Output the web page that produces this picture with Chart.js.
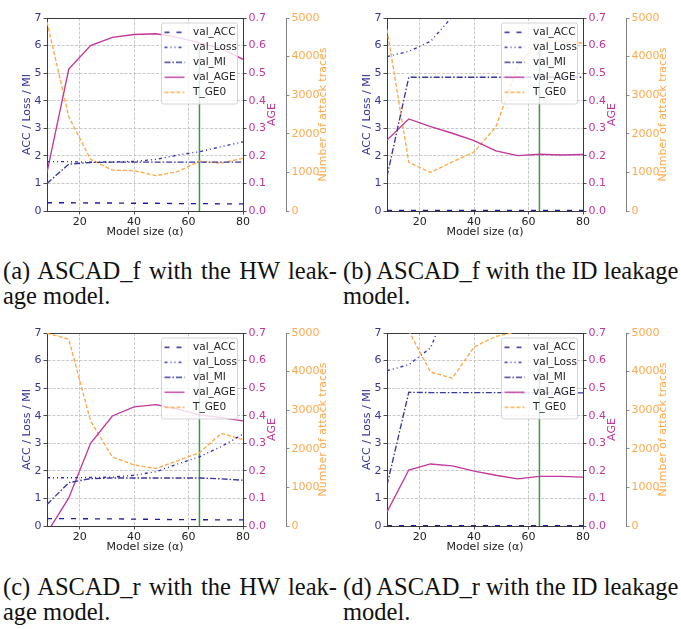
<!DOCTYPE html>
<html>
<head>
<meta charset="utf-8">
<script src="https://cdn.jsdelivr.net/npm/chart.js@4.4.0/dist/chart.umd.min.js"></script>
<style>
  body { margin: 0; background: #fff; width: 681px; height: 629px; position: relative; overflow: hidden; }
  .panel { position: absolute; width: 340px; height: 250px; }
  .cap { position: absolute; font-family: 'Liberation Serif', 'Times New Roman', serif; font-size: 24.5px; line-height: 25px; color: #111; white-space: nowrap; }
  .cap .j { display: block; width: 334px; text-align: justify; text-align-last: justify; }
</style>
</head>
<body>
<div class="panel" style="left:0;top:0"><canvas id="chartA" width="340" height="250"></canvas></div>
<div class="panel" style="left:340px;top:0"><canvas id="chartB" width="340" height="250"></canvas></div>
<div class="panel" style="left:0;top:315px"><canvas id="chartC" width="340" height="250"></canvas></div>
<div class="panel" style="left:340px;top:315px"><canvas id="chartD" width="340" height="250"></canvas></div>

<div class="cap" style="left:3px;top:258px"><span class="j">(a) ASCAD_f with the HW leak-</span>age model.</div>
<div class="cap" style="left:343px;top:258px">(b) ASCAD_f with the ID leakage<br>model.</div>
<div class="cap" style="left:3px;top:574px"><span class="j">(c) ASCAD_r with the HW leak-</span>age model.</div>
<div class="cap" style="left:343px;top:574px">(d) ASCAD_r with the ID leakage<br>model.</div>

<script>
const modelSizes = [8, 16, 24, 32, 40, 48, 56, 64, 72, 80];
const chosenSize = 64;
const chosenTop = 5.9;

// (a) ASCAD_f, HW
const accA  = [0.30, 0.30, 0.29, 0.29, 0.28, 0.28, 0.27, 0.27, 0.26, 0.26];
const lossA = [1.79, 1.79, 1.77, 1.78, 1.80, 1.87, 2.03, 2.15, 2.33, 2.51];
const miA   = [1.00, 1.70, 1.76, 1.77, 1.77, 1.77, 1.77, 1.77, 1.77, 1.77];
const ageA  = [0.14, 0.515, 0.60, 0.63, 0.64, 0.643, 0.63, 0.61, 0.59, 0.55];
const tgeA  = [4900, 2440, 1340, 1060, 1045, 915, 1020, 1290, 1240, 1365];

// (b) ASCAD_f, ID
const accB  = [0.02, 0.02, 0.02, 0.02, 0.02, 0.02, 0.02, 0.02, 0.02, 0.02];
const lossB = [5.60, 5.79, 6.15, 7.05, 8.0, 9.0, 10.0, 11.0, 12.0, 13.0];
const miB   = [1.25, 4.85, 4.85, 4.85, 4.85, 4.85, 4.85, 4.85, 4.85, 4.85];
const ageB  = [0.257, 0.334, 0.306, 0.282, 0.255, 0.218, 0.201, 0.206, 0.203, 0.205];
const tgeB  = [4700, 1260, 1000, 1270, 1530, 2180, 3740, 4450, 4390, 4350];

// (c) ASCAD_r, HW
const accC  = [0.27, 0.27, 0.26, 0.26, 0.25, 0.24, 0.23, 0.23, 0.22, 0.22];
const lossC = [1.75, 1.75, 1.76, 1.77, 1.84, 1.97, 2.25, 2.51, 2.88, 3.33];
const miC   = [0.78, 1.57, 1.72, 1.74, 1.74, 1.74, 1.74, 1.74, 1.71, 1.66];
const ageC  = [-0.025, 0.102, 0.30, 0.399, 0.432, 0.44, 0.424, 0.403, 0.393, 0.381];
const tgeC  = [4990, 4840, 2720, 1790, 1580, 1490, 1690, 1900, 2400, 2240];

// (d) ASCAD_r, ID
const accD  = [0.01, 0.01, 0.01, 0.01, 0.01, 0.01, 0.01, 0.01, 0.01, 0.01];
const lossD = [5.63, 5.85, 6.46, 8.4, 9.6, 10.8, 12.0, 13.0, 14.0, 15.0];
const miD   = [1.48, 4.85, 4.84, 4.84, 4.84, 4.84, 4.83, 4.83, 4.83, 4.83];
const ageD  = [0.051, 0.203, 0.225, 0.218, 0.199, 0.184, 0.171, 0.18, 0.18, 0.177];
const tgeD  = [6000, 5050, 3990, 3830, 4640, 4910, 5030, 5200, 5300, 5400];

const leftTicks = [0, 1, 2, 3, 4, 5, 6, 7];
const ageTicks = [0, 0.1, 0.2, 0.3, 0.4, 0.5, 0.6, 0.7];
const traceTicks = [0, 1000, 2000, 3000, 4000, 5000];

const FONT = 'DejaVu Sans';
const BLUE_TXT = '#35359a';
const C_ACC = '#1e1e98';
const C_LOSS = '#3030b4';
const C_MI = '#37379e';
const C_AGE = '#c2379c';
const C_TGE = '#ffa94a';
const C_GREEN = '#30a030';
const SPINE = '#3a3a3a';

Chart.defaults.font.family = FONT;
Chart.defaults.font.size = 11;

const boxLegend = {
    id: 'boxLegend',
    afterDatasetsDraw(chart) {
        const ctx = chart.ctx;
        const area = chart.chartArea;
        const items = chart.data.datasets.filter(d => d.label);
        const w = 76, rowH = 15, h = items.length * rowH + 6;
        const x0 = area.right - 5.5 - w, y0 = area.top + 5;
        ctx.save();
        ctx.fillStyle = 'rgba(255,255,255,0.8)';
        ctx.strokeStyle = '#cccccc';
        ctx.lineWidth = 0.8;
        ctx.beginPath();
        ctx.roundRect(x0, y0, w, h, 2);
        ctx.fill();
        ctx.stroke();
        items.forEach((d, i) => {
            const y = y0 + 9.3 + i * rowH;
            ctx.globalAlpha = 0.8;
            ctx.strokeStyle = d.borderColor;
            ctx.lineWidth = d.borderWidth + 0.3;
            ctx.setLineDash(d.borderDash || []);
            ctx.beginPath();
            ctx.moveTo(x0 + 3, y);
            ctx.lineTo(x0 + 23, y);
            ctx.stroke();
            ctx.setLineDash([]);
            ctx.globalAlpha = 1;
            ctx.fillStyle = '#262626';
            ctx.font = '10.5px "' + FONT + '"';
            ctx.textBaseline = 'middle';
            ctx.textAlign = 'left';
            ctx.fillText(d.label, x0 + 31.5, y);
        });
        ctx.restore();
    }
};

const sideTitleDefs = {
    yAge: { text: 'AGE', color: C_AGE, offset: 14.3 },
    yTraces: { text: 'Number of attack traces', color: C_TGE, offset: 9 }
};

const sideTitles = {
    id: 'sideTitles',
    afterDraw(chart) {
        const ctx = chart.ctx;
        const area = chart.chartArea;
        const yMid = (area.top + area.bottom) / 2;
        Object.keys(sideTitleDefs).forEach(id => {
            const s = chart.scales[id];
            const t = sideTitleDefs[id];
            ctx.save();
            ctx.translate(s.right - t.offset, yMid);
            ctx.rotate(-Math.PI / 2);
            ctx.font = '11px "' + FONT + '"';
            ctx.fillStyle = t.color;
            ctx.textAlign = 'center';
            ctx.textBaseline = 'middle';
            ctx.fillText(t.text, 0, 0);
            ctx.restore();
        });
    }
};

function pts(vals) {
    return modelSizes.map((x, i) => ({ x: x, y: vals[i] }));
}

function line(label, vals, axis, color, dash) {
    return {
        label: label,
        data: pts(vals),
        yAxisID: axis,
        borderColor: color,
        borderWidth: 1.35,
        borderDash: dash,
        pointRadius: 0,
        fill: false,
        tension: 0
    };
}

function fixedTicks(list) {
    return function (scale) {
        scale.ticks = list.map(v => ({ value: v }));
    };
}

function drawPanel(id, acc, loss, mi, age, tge) {
    const datasets = [
        line('val_ACC', acc, 'y', C_ACC, [5, 7]),
        line('val_Loss', loss, 'y', C_LOSS, [3, 3, 1, 3, 1, 3]),
        line('val_MI', mi, 'y', C_MI, [6, 2, 1.5, 2]),
        line('val_AGE', age, 'yAge', C_AGE, []),
        line('T_GE0', tge, 'yTraces', C_TGE, [4, 2]),
        {
            label: '',
            data: [{ x: chosenSize, y: 0 }, { x: chosenSize, y: chosenTop }],
            yAxisID: 'y',
            borderColor: C_GREEN,
            borderWidth: 1.5,
            pointRadius: 0,
            fill: false
        }
    ];

    const gridLine = { color: '#bcbcbc', lineWidth: 0.8, tickLength: 3.5, tickColor: SPINE, tickWidth: 0.9, tickBorderDash: [] };

    new Chart(document.getElementById(id), {
        type: 'line',
        data: { datasets: datasets },
        options: {
            responsive: false,
            animation: false,
            layout: { padding: { left: 16, right: 8, top: 18, bottom: 7 } },
            plugins: { legend: { display: false }, tooltip: { enabled: false } },
            scales: {
                x: {
                    type: 'linear', min: 8, max: 80,
                    afterBuildTicks: fixedTicks([20, 40, 60, 80]),
                    afterFit: s => { s.height = 32; },
                    ticks: { color: '#222', padding: 1, maxRotation: 0, callback: v => String(v) },
                    grid: gridLine,
                    border: { color: SPINE, width: 1, dash: [3, 1.5] },
                    title: { display: true, text: 'Model size (α)', color: '#222', padding: { top: 0, bottom: 4 } }
                },
                xTop: {
                    type: 'linear', axis: 'x', position: 'top', min: 8, max: 80,
                    ticks: { display: false },
                    grid: { drawOnChartArea: false, drawTicks: false },
                    border: { color: SPINE, width: 1 },
                    afterFit: s => { s.height = 0; }
                },
                y: {
                    position: 'left', min: 0, max: 7,
                    afterBuildTicks: fixedTicks(leftTicks),
                    afterFit: s => { s.width = 31; },
                    ticks: { color: BLUE_TXT, padding: 2, callback: v => String(v) },
                    grid: gridLine,
                    border: { color: SPINE, width: 1, dash: [3, 1.5] },
                    title: { display: true, text: 'ACC / Loss / MI', color: BLUE_TXT, padding: { top: 5, bottom: 0 } }
                },
                yAge: {
                    position: 'right', weight: 1, min: 0, max: 0.7,
                    afterBuildTicks: fixedTicks(ageTicks),
                    afterFit: s => { s.width = 43; },
                    ticks: { color: C_AGE, padding: 2, callback: v => v.toFixed(1) },
                    grid: { drawOnChartArea: false, tickLength: 3.5, tickColor: SPINE, tickWidth: 0.9 },
                    border: { color: SPINE, width: 1 }
                },
                yTraces: {
                    position: 'right', weight: 2, min: 0, max: 5000,
                    afterBuildTicks: fixedTicks(traceTicks),
                    afterFit: s => { s.width = 46; },
                    ticks: { color: C_TGE, padding: 2, callback: v => String(v) },
                    grid: { drawOnChartArea: false, tickLength: 3.5, tickColor: '#808080', tickWidth: 0.9 },
                    border: { color: '#808080', width: 1 }
                }
            }
        },
        plugins: [boxLegend, sideTitles]
    });
}

drawPanel('chartA', accA, lossA, miA, ageA, tgeA);
drawPanel('chartB', accB, lossB, miB, ageB, tgeB);
drawPanel('chartC', accC, lossC, miC, ageC, tgeC);
drawPanel('chartD', accD, lossD, miD, ageD, tgeD);
</script>
</body>
</html>
